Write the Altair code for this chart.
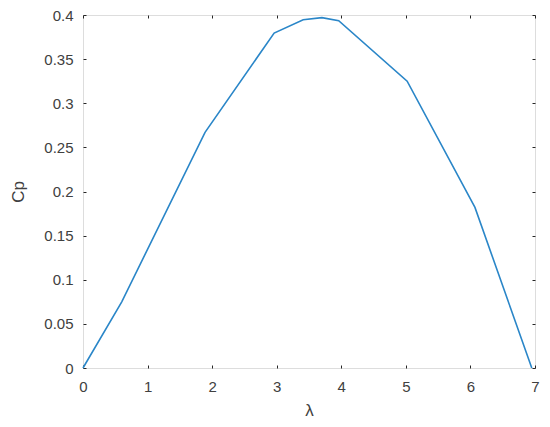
import altair as alt
import pandas as pd

lam = [0.0, 0.6, 1.89, 2.96, 3.41, 3.70, 3.96, 5.02, 6.07, 6.95]
cp = [0.0, 0.075, 0.267, 0.3795, 0.3946, 0.397, 0.3935, 0.325, 0.182, 0.0]
x_ticks = [0, 1, 2, 3, 4, 5, 6, 7]
y_ticks = [0, 0.05, 0.1, 0.15, 0.2, 0.25, 0.3, 0.35, 0.4]

df = pd.DataFrame({"lam": lam, "cp": cp})

FONT = "Liberation Sans"
AX = "#262626"
LAB = "#404040"

xs = alt.Scale(domain=[0, 7], nice=False)
ys = alt.Scale(domain=[0, 0.4], nice=False)

common = dict(grid=False, domain=False, tickColor=AX, tickSize=3, offset=-3,
              labelFont=FONT, titleFont=FONT, labelColor=LAB, titleColor=LAB,
              labelFlush=False, labelOverlap=False, format="~g")

main = alt.Chart(df).mark_line(color="#2a86c8", strokeWidth=1.6).encode(
    x=alt.X("lam:Q", scale=xs,
            axis=alt.Axis(values=x_ticks, title="λ", labelFontSize=15,
                          titleFontSize=17, titleFontWeight="normal",
                          labelPadding=11, titlePadding=8, **common)),
    y=alt.Y("cp:Q", scale=ys,
            axis=alt.Axis(values=y_ticks, title="Cp", labelFontSize=15,
                          titleFontSize=17, titleFontWeight="normal",
                          labelPadding=10, titlePadding=16, **common)),
)

frame = alt.Chart(df).mark_line(opacity=0).encode(
    x=alt.X("lam:Q", scale=xs,
            axis=alt.Axis(orient="top", values=x_ticks, labels=False, title=None, **common)),
    y=alt.Y("cp:Q", scale=ys,
            axis=alt.Axis(orient="right", values=y_ticks, labels=False, title=None, **common)),
)

chart = alt.layer(main, frame).resolve_axis(x="independent", y="independent").properties(
    width=452, height=353, autosize="none",
    padding={"left": 75, "top": 7, "right": 7, "bottom": 50},
).configure_view(stroke=AX, strokeWidth=1).configure(background="white")

chart.save("out.html", embed_options={"renderer": "svg", "actions": False})
